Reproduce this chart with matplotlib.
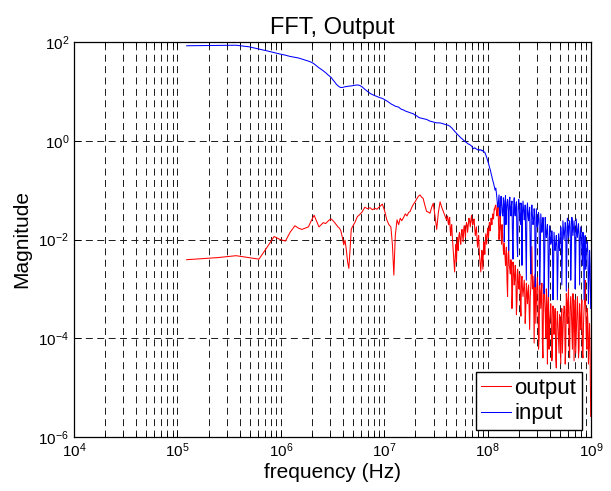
import numpy as np
import matplotlib
matplotlib.use('Agg')
import matplotlib.pyplot as plt
from matplotlib.ticker import LogLocator, NullLocator

plt.rcParams['font.family'] = ['Liberation Sans', 'DejaVu Sans']
plt.rcParams['mathtext.fontset'] = 'custom'
plt.rcParams['mathtext.rm'] = 'Liberation Sans'
plt.rcParams['mathtext.default'] = 'regular'
plt.rcParams['axes.unicode_minus'] = False
plt.rcParams['lines.scale_dashes'] = False

# --- data (frequency in MHz, shared by both spectra) ---
freq_low = [0.123, 0.246, 0.369, 0.492, 0.615, 0.738, 0.861, 0.984, 1.11, 1.23,
            1.37, 1.48, 1.6, 1.72, 1.85, 1.97, 2.1, 2.21, 2.34, 2.46,
            2.58, 2.71, 2.83, 2.95, 3.08, 3.2, 3.32, 3.44, 3.57, 3.69,
            3.81, 3.94, 4.06, 4.18, 4.31, 4.43, 4.55, 4.67, 4.8, 4.92,
            5.2, 5.5, 5.8, 6.1, 6.5, 6.9, 7.3, 7.7, 8.1, 8.5,
            9.0, 9.6, 10.1, 10.6, 11.1, 11.6, 12.0, 12.4, 12.8, 13.3,
            13.8, 14.3, 14.8, 15.4, 16.0, 16.6, 17.2, 17.8, 18.5, 19.2,
            19.9, 20.6, 21.4, 22.2, 23.0, 23.8, 24.7, 25.7, 26.7, 27.7,
            28.8, 29.8, 31.0, 32.2, 33.4, 34.7, 36.0, 37.3, 38.7, 40.0]
input_low = [84, 85, 86, 80, 72, 66, 61, 57, 54, 51,
             49, 47.5, 45, 43, 41, 39, 36, 33, 30, 28,
             26, 24, 22, 20.5, 19, 17, 15.5, 14, 13, 12.3,
             12, 12, 12.2, 12.4, 12.5, 12.6, 12.8, 12.8, 12.9, 13,
             13.3, 13.5, 13.2, 12.4, 11, 10, 9.1, 8.6, 8.2, 7.9,
             7.5, 7.2, 6.8, 6.4, 6.0, 5.6, 5.4, 5.2, 5.0, 4.9,
             4.8, 4.5, 4.3, 4.2, 4.0, 3.9, 3.8, 3.7, 3.6, 3.5,
             3.3, 3.2, 3.0, 2.9, 2.85, 2.8, 2.75, 2.7, 2.6, 2.5,
             2.45, 2.4, 2.35, 2.3, 2.3, 2.3, 2.25, 2.2, 2.15, 2.1]
output_low = [0.0039, 0.0043, 0.0047, 0.0043, 0.0040, 0.0070, 0.0115, 0.010, 0.0093, 0.014,
              0.019, 0.017, 0.016, 0.017, 0.018, 0.024, 0.031, 0.024, 0.018, 0.020,
              0.022, 0.021, 0.023, 0.025, 0.026, 0.024, 0.022, 0.020, 0.018, 0.017,
              0.015, 0.011, 0.0078, 0.0097, 0.006, 0.0035, 0.0026, 0.006, 0.016, 0.018,
              0.022, 0.029, 0.032, 0.036, 0.045, 0.042, 0.044, 0.040, 0.043, 0.041,
              0.046, 0.052, 0.038, 0.025, 0.020, 0.018, 0.008, 0.0019, 0.012, 0.025,
              0.020, 0.027, 0.024, 0.028, 0.033, 0.030, 0.035, 0.037, 0.045, 0.052,
              0.058, 0.066, 0.075, 0.080, 0.072, 0.068, 0.050, 0.037, 0.036, 0.034,
              0.045, 0.054, 0.030, 0.016, 0.035, 0.058, 0.045, 0.037, 0.030, 0.025]

freq_mid = [41, 42, 43, 44, 45, 46, 47, 48, 49, 50, 51, 52,
            53.5, 55, 56.5, 58, 59.5, 61, 62.5, 64,
            66, 68, 70, 72, 74, 76, 78, 80, 82, 84,
            86, 88, 90, 92, 94, 96, 98, 100, 102, 104,
            106, 108, 110, 112, 114, 116, 118,
            41.5, 42.5, 43.5, 44.5, 45.5, 46.5, 47.5, 48.5, 49.5, 50.5, 51.5,
            52.75, 54.25, 55.75, 57.25, 58.75, 60.25, 61.75, 63.25,
            65, 67, 69, 71, 73, 75, 77, 79, 81, 83,
            85, 87, 89, 91, 93, 95, 97, 99, 101, 103,
            105, 107, 109, 111, 113, 115, 117]
input_mid = [2.08, 2.05, 1.98, 1.9, 1.82, 1.72, 1.65, 1.55, 1.5, 1.41, 1.35, 1.3,
             1.22, 1.15, 1.1, 1.04, 1.0, 0.95, 0.92, 0.88,
             0.85, 0.82, 0.78, 0.72, 0.7, 0.71, 0.68, 0.66, 0.67, 0.64,
             0.66, 0.63, 0.64, 0.6, 0.58, 0.52, 0.46, 0.4, 0.35, 0.3,
             0.26, 0.22, 0.19, 0.16, 0.14, 0.12, 0.1,
             2.06, 2.0, 1.95, 1.85, 1.78, 1.68, 1.6, 1.52, 1.46, 1.38, 1.32,
             1.26, 1.18, 1.12, 1.07, 1.02, 0.97, 0.94, 0.9,
             0.86, 0.84, 0.8, 0.75, 0.69, 0.72, 0.69, 0.67, 0.65, 0.66,
             0.65, 0.64, 0.62, 0.63, 0.59, 0.55, 0.49, 0.43, 0.37, 0.32,
             0.28, 0.24, 0.2, 0.17, 0.15, 0.13, 0.11]
output_mid = [0.03, 0.02, 0.028, 0.012, 0.02, 0.0085, 0.004, 0.0022, 0.006, 0.0035, 0.011, 0.006,
              0.014, 0.008, 0.016, 0.009, 0.019, 0.011, 0.022, 0.014,
              0.027, 0.018, 0.031, 0.02, 0.026, 0.012, 0.018, 0.007, 0.012, 0.004,
              0.0022, 0.006, 0.0025, 0.009, 0.005, 0.013, 0.008, 0.017, 0.011, 0.022,
              0.015, 0.027, 0.02, 0.033, 0.026, 0.042, 0.046,
              0.022, 0.026, 0.015, 0.018, 0.012, 0.006, 0.003, 0.004, 0.008, 0.007, 0.009,
              0.012, 0.01, 0.013, 0.012, 0.016, 0.014, 0.018, 0.02,
              0.02, 0.024, 0.025, 0.022, 0.024, 0.018, 0.015, 0.01, 0.01, 0.006,
              0.003, 0.004, 0.004, 0.006, 0.007, 0.009, 0.01, 0.012, 0.014, 0.016,
              0.02, 0.02, 0.024, 0.026, 0.03, 0.034, 0.04]

freq_high = [120, 123, 126, 129, 132, 135, 138, 142, 145, 149,
             152, 156, 160, 164, 168, 172, 176, 181, 185, 190,
             195, 200, 205, 210, 215, 220, 226, 231, 237, 243,
             249, 255, 262, 268, 275, 282, 289, 296, 303, 311,
             319, 327, 335, 343, 352, 361, 370, 379, 388, 398,
             408, 418, 429, 439, 450, 462, 473, 485, 497, 510,
             522, 535, 549, 563, 577, 591, 606, 621, 637, 653,
             669, 686, 703, 720, 738, 757, 776, 795, 815, 836,
             857, 878, 900, 922, 945, 969, 993,
             121.5, 124.5, 127.5, 130.5, 133.5, 136.5, 140, 143.5,
             147, 150.5, 154, 158, 162,
             166, 170, 174, 178.5, 183, 187.5, 192.5, 197.5, 202.5, 207.5, 212.5, 217.5,
             223, 228.5, 234, 240, 246, 252, 258.5, 265, 271.5,
             278.5, 285.5, 292.5, 299.5, 307, 315, 323, 331, 339, 347.5, 356.5, 365.5,
             374.5, 383.5, 393, 403, 413, 423.5, 434, 444.5, 456, 467.5, 479, 491,
             503.5, 516, 528.5, 542, 556, 570, 584, 598.5, 613.5, 629, 645, 661,
             677.5, 694.5, 711.5, 729, 747.5, 766.5,
             785.5, 805, 825.5, 846.5, 867.5, 889, 911, 933.5, 957, 981]
input_high = [0.11, 0.07, 0.045, 0.08, 0.03, 0.075, 0.035, 0.07, 0.009, 0.078,
              0.035, 0.065, 0.006, 0.072, 0.03, 0.06, 0.004, 0.07, 0.03, 0.058,
              0.0045, 0.065, 0.028, 0.055, 0.003, 0.06, 0.025, 0.05, 0.0015, 0.055,
              0.024, 0.045, 0.002, 0.05, 0.02, 0.042, 0.0011, 0.042, 0.018, 0.035,
              0.0012, 0.033, 0.014, 0.028, 0.0008, 0.028, 0.011, 0.02, 0.0007, 0.019,
              0.008, 0.015, 0.0006, 0.014, 0.006, 0.012, 0.0006, 0.013, 0.006, 0.018,
              0.0012, 0.024, 0.01, 0.022, 0.0009, 0.027, 0.011, 0.024, 0.0015, 0.028,
              0.012, 0.024, 0.001, 0.026, 0.011, 0.021, 0.0012, 0.018, 0.007, 0.014,
              0.0006, 0.012, 0.005, 0.009, 0.0005, 0.006, 0.0004,
              0.09, 0.05, 0.06, 0.04, 0.055, 0.05, 0.03, 0.06,
              0.05, 0.02, 0.055, 0.04, 0.06,
              0.04, 0.05, 0.012, 0.045, 0.035, 0.05, 0.01, 0.045, 0.04, 0.02, 0.05, 0.035,
              0.04, 0.03, 0.008, 0.04, 0.03, 0.035, 0.006, 0.035, 0.03,
              0.025, 0.03, 0.005, 0.028, 0.022, 0.025, 0.004, 0.022, 0.018, 0.02, 0.004, 0.016,
              0.014, 0.01, 0.003, 0.012, 0.009, 0.01, 0.002, 0.009, 0.008, 0.007, 0.0025, 0.008,
              0.012, 0.014, 0.005, 0.016, 0.015, 0.018, 0.006, 0.02, 0.016, 0.018, 0.005, 0.02,
              0.017, 0.015, 0.004, 0.017, 0.015, 0.012,
              0.01, 0.011, 0.003, 0.009, 0.008, 0.0025, 0.006, 0.005, 0.0015, 0.003]
output_high = [0.05, 0.03, 0.045, 0.01, 0.03, 0.012, 0.02, 0.006, 0.0085, 0.003,
               0.007, 0.0007, 0.006, 0.0025, 0.0039, 0.0004, 0.0035, 0.0012, 0.003, 0.0003,
               0.0025, 0.001, 0.002, 0.00028, 0.0018, 0.0007, 0.0015, 0.0002, 0.0013, 0.0005,
               0.0012, 0.00015, 0.0011, 0.0072, 0.0018, 0.00008, 0.002, 0.0005, 0.0017, 0.00006,
               0.0015, 0.0004, 0.0013, 0.00004, 0.0012, 0.0003, 0.001, 0.00003, 0.0009, 0.0002,
               0.0005, 0.000035, 0.00045, 0.00012, 0.0004, 0.000025, 0.00035, 0.0001, 0.0003, 0.00003,
               0.0004, 0.00012, 0.00045, 0.00003, 0.0008, 0.0002, 0.001, 0.00004, 0.0007, 0.00015,
               0.0008, 0.000035, 0.0006, 0.00012, 0.0007, 0.00004, 0.0005, 0.00015, 0.0006, 0.00004,
               0.0004, 0.0015, 0.0001, 0.0004, 0.00003, 0.0002, 0.0000026,
               0.04, 0.035, 0.02, 0.015, 0.02, 0.008, 0.012, 0.005,
               0.005, 0.004, 0.0015, 0.005, 0.003,
               0.002, 0.003, 0.0008, 0.0025, 0.0015, 0.002, 0.0006, 0.0018, 0.0012, 0.0005, 0.0014, 0.001,
               0.001, 0.0009, 0.0004, 0.0009, 0.0008, 0.0004, 0.0007, 0.003, 0.001,
               0.001, 0.0013, 0.0002, 0.0011, 0.0009, 0.0001, 0.0008, 0.0009, 0.00008, 0.0007, 0.0006, 0.0001,
               0.0005, 0.0004, 0.00006, 0.0003, 0.00025, 0.00005, 0.00025, 0.0002, 0.00004, 0.0002, 0.00018, 0.00005,
               0.0002, 0.00025, 0.00005, 0.0003, 0.0004, 0.00006, 0.0005, 0.0006, 0.00008, 0.0004, 0.0004, 0.00006,
               0.0004, 0.0003, 0.00005, 0.00035, 0.0003, 0.00006,
               0.0003, 0.00025, 0.00005, 0.0002, 0.0006, 0.0004, 0.00006, 0.0002, 0.00008, 0.00005]

freq = np.array(freq_low + freq_mid + freq_high) * 1e6
mag_input = np.array(input_low + input_mid + input_high)
mag_output = np.array(output_low + output_mid + output_high)
order = np.argsort(freq)
freq, mag_input, mag_output = freq[order], mag_input[order], mag_output[order]

fig = plt.figure(figsize=(6.11, 4.91), dpi=100)
ax = fig.add_axes([74 / 611, 54 / 491, 517 / 611, 395 / 491])

ax.loglog(freq, mag_output, color='red', lw=0.75, label='output')
ax.loglog(freq, mag_input, color='blue', lw=0.75, label='input')

ax.set_xlim(1e4, 1e9)
ax.set_ylim(1e-6, 1e2)
ax.set_xticks([1e4, 1e5, 1e6, 1e7, 1e8, 1e9])
ax.xaxis.set_minor_locator(LogLocator(base=10, subs=range(2, 10), numticks=20))
ax.set_yticks([1e-6, 1e-4, 1e-2, 1e0, 1e2])
ax.yaxis.set_minor_locator(NullLocator())

dash = (0, (5, 3.2))
ax.grid(True, which='both', axis='x', color='0.1', ls=dash, lw=0.7)
ax.grid(True, which='major', axis='y', color='0.1', ls=dash, lw=0.7)
ax.set_axisbelow(True)

ax.tick_params(which='both', direction='in', top=True, right=True, labelsize=11)
ax.tick_params(which='major', length=5, width=0.7)
ax.tick_params(which='minor', length=3, width=0.7)
for s in ax.spines.values():
    s.set_linewidth(0.9)

ax.set_title('FFT, Output', fontsize=17, pad=6)
ax.set_xlabel('frequency (Hz)', fontsize=15, labelpad=2)
ax.set_ylabel('Magnitude', fontsize=15, labelpad=5)

ax.legend(loc='lower right', bbox_to_anchor=(582 / 611, 61 / 491),
          bbox_transform=fig.transFigure, borderaxespad=0, fontsize=16,
          fancybox=False, framealpha=1, edgecolor='k', borderpad=0.25,
          handlelength=1.35, handletextpad=0.15, labelspacing=0.2)

fig.savefig('out.png', dpi=100)
